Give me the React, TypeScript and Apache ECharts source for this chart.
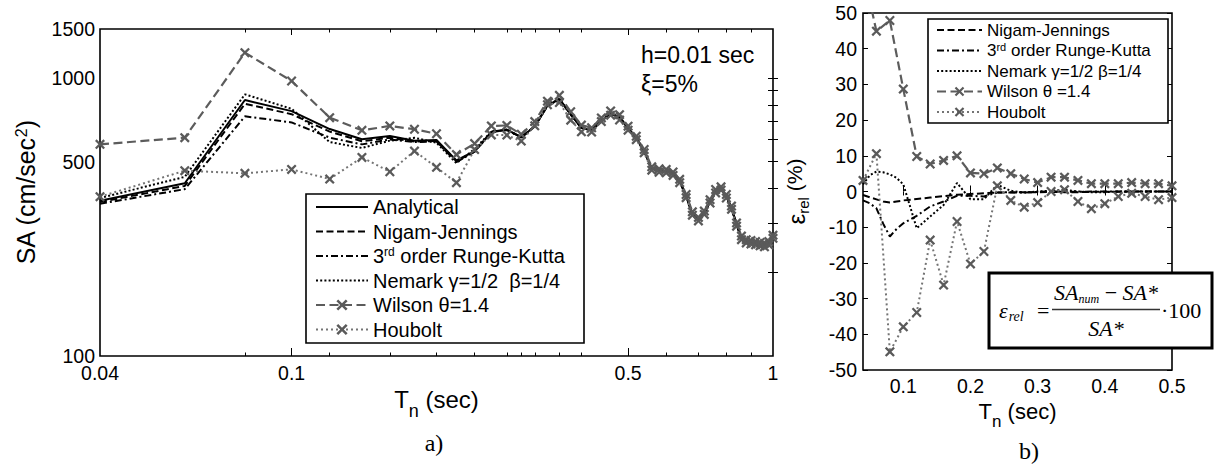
import { useEffect, useRef } from 'react';
import * as echarts from 'echarts';

const FONT = '"Liberation Sans", Arial, sans-serif';
const SERIF = '"Liberation Serif", "Times New Roman", serif';

// ---------- Panel a) : spectral acceleration (log-log) ----------
const T_SA = [0.04, 0.06, 0.08, 0.1, 0.12, 0.14, 0.16, 0.18, 0.2, 0.22, 0.24, 0.26, 0.28, 0.3, 0.32, 0.34, 0.36, 0.38, 0.4, 0.42, 0.44, 0.46, 0.48, 0.5, 0.52, 0.54, 0.56, 0.58, 0.6, 0.62, 0.64, 0.66, 0.68, 0.7, 0.72, 0.74, 0.76, 0.78, 0.8, 0.82, 0.84, 0.86, 0.88, 0.9, 0.92, 0.94, 0.96, 0.98, 1.0];
const SA_ANALYTICAL = [362, 418, 833, 760, 655, 602, 618, 595, 598, 505, 545, 640, 652, 612, 670, 795, 840, 740, 662, 648, 700, 745, 722, 660, 608, 545, 472, 464, 462, 452, 426, 376, 325, 310, 327, 360, 391, 400, 375, 341, 297, 266, 258, 256, 254, 252, 250, 254, 268];
const SA_NIGAM = [358, 409, 807, 741, 641, 592, 610, 590, 594, 502, 543, 638, 651, 611, 669, 794, 839, 740, 662, 648, 700, 745, 722, 660, 608, 545, 472, 464, 462, 452, 426, 376, 325, 310, 327, 360, 391, 400, 375, 341, 297, 266, 258, 256, 254, 252, 250, 254, 268];
const SA_RK3 = [353, 398, 728, 692, 610, 577, 601, 588, 591, 498, 543, 639, 650, 611, 670, 795, 840, 740, 662, 648, 700, 745, 722, 660, 608, 545, 472, 464, 462, 452, 426, 376, 325, 310, 327, 360, 391, 400, 375, 341, 297, 266, 258, 256, 254, 252, 250, 254, 268];
const SA_NEWMARK = [370, 441, 873, 775, 588, 560, 595, 609, 585, 494, 555, 641, 650, 612, 671, 799, 840, 739, 661, 648, 700, 745, 722, 660, 608, 545, 472, 464, 462, 452, 426, 376, 325, 310, 327, 360, 391, 400, 375, 341, 297, 266, 258, 256, 254, 252, 250, 254, 268];
const SA_WILSON = [577, 610, 1233, 975, 720, 648, 672, 654, 630, 530, 581, 672, 675, 627, 697, 825, 866, 756, 677, 662, 718, 761, 738, 671, 617, 553, 479, 471, 469, 459, 432, 381, 330, 315, 332, 365, 397, 406, 381, 346, 301, 270, 262, 260, 258, 256, 254, 258, 272];
const SA_HOUBOLT = [374, 464, 454, 469, 433, 518, 460, 546, 477, 420, 553, 624, 623, 593, 673, 801, 816, 705, 640, 639, 697, 735, 706, 649, 600, 538, 466, 458, 456, 446, 420, 371, 321, 306, 323, 355, 386, 395, 370, 337, 293, 262, 255, 253, 251, 249, 247, 251, 265];

const SA_X_LABELS = [0.04, 0.1, 0.5, 1];
const SA_X_MAJOR_TICKS = [0.1, 0.5];
const SA_X_MINOR_TICKS = [0.08, 0.12, 0.16, 0.2, 0.24, 0.28, 0.3, 0.32, 0.36, 0.4, 0.6, 0.7, 0.8, 0.9];
const SA_Y_LABELS = [100, 500, 1000, 1500];
const SA_Y_TICKS = [200, 300, 400, 500, 600, 700, 800, 900, 1000];

// ---------- Panel b) : relative error ----------
const T_ERR_FINE = [0.04, 0.05, 0.06, 0.07, 0.08, 0.09, 0.1, 0.12, 0.14, 0.16, 0.18, 0.2, 0.22, 0.24, 0.26, 0.28, 0.3, 0.32, 0.34, 0.36, 0.38, 0.4, 0.42, 0.44, 0.46, 0.48, 0.5];
const ERR_NIGAM = [-1.0, -1.6, -2.2, -2.8, -3.1, -2.8, -2.5, -2.1, -1.7, -1.3, -0.9, -0.7, -0.5, -0.3, -0.3, -0.2, -0.2, -0.1, -0.2, -0.2, -0.1, -0.1, -0.1, 0, 0, 0, 0];
const ERR_RK3 = [-2.5, -3.3, -4.7, -9.0, -12.6, -10.5, -8.9, -6.8, -4.2, -2.8, -1.2, -1.2, -1.4, -0.3, -0.2, -0.3, -0.1, 0, -0.1, -0.1, 0, 0, 0, 0, 0, 0, 0];
const ERR_NEWMARK = [2.0, 4.5, 5.6, 5.4, 4.8, 3.8, 2.0, -10.3, -7.0, -3.8, 2.4, -2.2, -2.2, 1.9, 0.2, -0.3, 0, 0.2, 0.5, 0, -0.2, -0.2, 0, 0, 0, 0, 0];
const T_ERR = [0.04, 0.06, 0.08, 0.1, 0.12, 0.14, 0.16, 0.18, 0.2, 0.22, 0.24, 0.26, 0.28, 0.3, 0.32, 0.34, 0.36, 0.38, 0.4, 0.42, 0.44, 0.46, 0.48, 0.5];
const ERR_WILSON = [62, 44.9, 47.9, 28.7, 9.8, 7.7, 8.7, 10.0, 5.2, 5.0, 6.6, 5.0, 3.5, 2.5, 4.0, 4.0, 3.1, 2.2, 2.2, 2.2, 2.5, 2.2, 2.2, 1.6];
const ERR_HOUBOLT = [3.1, 10.6, -44.9, -37.9, -33.9, -13.6, -26.2, -8.4, -20.3, -16.8, 1.6, -2.5, -4.4, -3.1, 0.0, 0.5, -2.8, -4.8, -3.4, -1.4, -0.5, -1.4, -2.3, -1.7];
const ERR_X_TICKS = [0.1, 0.2, 0.3, 0.4, 0.5];

const NAME_AN = 'Analytical';
const NAME_NJ = 'Nigam-Jennings';
const NAME_RK = '3rd order Runge-Kutta';
const NAME_NM_A = 'Nemark γ=1/2  β=1/4';
const NAME_WI_A = 'Wilson θ=1.4';
const NAME_NM_B = 'Nemark γ=1/2 β=1/4';
const NAME_WI_B = 'Wilson θ =1.4';
const NAME_HO = 'Houbolt';

const X_SYMBOL = 'path://M0,1.6L1.6,0L5,3.4L8.4,0L10,1.6L6.6,5L10,8.4L8.4,10L5,6.6L1.6,10L0,8.4L3.4,5Z';

const L = (v: number) => Math.log10(v);

const STY = {
  an: { color: '#000', type: 'solid' as any, width: 2 },
  nj: { color: '#000', type: [7, 3.5], width: 2 },
  rk: { color: '#000', type: [7, 3, 2, 3], width: 2 },
  nm: { color: '#000', type: [2, 2.2], width: 2 },
  wi: { color: '#5c5c5c', type: [9, 4.5], width: 2.2 },
  ho: { color: '#747474', type: [2, 3], width: 2 },
};

function blackSeries(name: string, st: any, xs: number[], ys: number[], xi: number, yi: number, log: boolean) {
  return {
    type: 'line', name, xAxisIndex: xi, yAxisIndex: yi,
    symbol: 'none', color: st.color,
    lineStyle: { color: st.color, type: st.type, width: st.width },
    data: xs.map((t, i) => (log ? [L(t), L(ys[i])] : [t, ys[i]])),
    z: 3,
  };
}
function markSeries(name: string, st: any, xs: number[], ys: number[], xi: number, yi: number, log: boolean) {
  return {
    type: 'line', name, xAxisIndex: xi, yAxisIndex: yi,
    symbol: X_SYMBOL, symbolSize: 10, showSymbol: true, color: '#5a5a5a',
    itemStyle: { color: '#5a5a5a' },
    lineStyle: { color: st.color, type: st.type, width: st.width },
    data: xs.map((t, i) => (log ? [L(t), L(ys[i])] : [t, ys[i]])),
    z: 4,
  };
}

function tickAxis(extra: any) {
  return {
    type: 'value',
    axisLine: { show: false },
    splitLine: { show: false },
    axisLabel: { show: false },
    ...extra,
  };
}

export default function App() {
  const ref = useRef<HTMLDivElement>(null);
  useEffect(() => {
    const chart = echarts.init(ref.current!, null, { renderer: 'svg' });
    const tickStyle = { color: '#000', width: 1 };
    const labelBase = { color: '#000', fontSize: 19.5, fontFamily: FONT };
    const xa0 = L(0.04), xa1 = 0;
    const ya0 = 2, ya1 = L(1500);

    const legendRichA = {
      n: { fontSize: 20, lineHeight: 20, fontFamily: FONT, color: '#000' },
      sup: { fontSize: 12, lineHeight: 12, verticalAlign: 'top', fontFamily: FONT, color: '#000' },
    };
    const legendRichB = {
      n: { fontSize: 17, lineHeight: 18, fontFamily: FONT, color: '#000' },
      sup: { fontSize: 11, lineHeight: 11, verticalAlign: 'top', fontFamily: FONT, color: '#000' },
    };
    const legendFmt = (name: string) =>
      name === NAME_RK ? '{n|3}{sup|rd}{n| order Runge-Kutta}' : '{n|' + name + '}';
    const hide = { opacity: 0 };

    const option: any = {
      animation: false,
      textStyle: { fontFamily: FONT },
      grid: [
        { left: 100, top: 29, width: 673, height: 327, show: true, borderColor: '#000', borderWidth: 1.6, backgroundColor: 'transparent' },
        { left: 863, top: 13, width: 309, height: 357, show: true, borderColor: '#000', borderWidth: 1.6, backgroundColor: 'transparent' },
      ],
      xAxis: [
        tickAxis({
          gridIndex: 0, position: 'bottom', min: xa0, max: xa1,
          axisTick: { show: true, inside: true, length: 8, lineStyle: tickStyle, customValues: SA_X_MAJOR_TICKS.map(L) },
          axisLabel: {
            show: true, ...labelBase, margin: 7, customValues: SA_X_LABELS.map(L),
            formatter: (v: number) => String(parseFloat(Math.pow(10, v).toPrecision(3))),
          },
          name: '{t|T}{sub|n}{t| (sec)}', nameLocation: 'middle', nameGap: 24,
          nameTextStyle: {
            rich: {
              t: { fontSize: 24, lineHeight: 24, verticalAlign: 'top', fontFamily: FONT, color: '#000' },
              sub: { fontSize: 18, lineHeight: 18, padding: [14, 0, 0, 0], verticalAlign: 'top', fontFamily: FONT, color: '#000' },
            },
          },
        }),
        tickAxis({
          gridIndex: 0, position: 'bottom', min: xa0, max: xa1,
          axisTick: { show: true, inside: true, length: 3.5, lineStyle: tickStyle, customValues: SA_X_MINOR_TICKS.map(L) },
        }),
        tickAxis({
          gridIndex: 0, position: 'top', min: xa0, max: xa1,
          axisTick: { show: true, inside: true, length: 6, lineStyle: tickStyle, customValues: SA_X_MAJOR_TICKS.map(L) },
        }),
        tickAxis({
          gridIndex: 0, position: 'top', min: xa0, max: xa1,
          axisTick: { show: true, inside: true, length: 3.5, lineStyle: tickStyle, customValues: SA_X_MINOR_TICKS.map(L) },
        }),
        tickAxis({
          gridIndex: 1, position: 'bottom', min: 0.04, max: 0.5,
          axisTick: { show: true, inside: true, length: 6, lineStyle: tickStyle, customValues: ERR_X_TICKS },
          axisLabel: {
            show: true, ...labelBase, margin: 6, customValues: ERR_X_TICKS,
            formatter: (v: number) => String(parseFloat(v.toFixed(2))),
          },
          name: '{t|T}{sub|n}{t| (sec)}', nameLocation: 'middle', nameGap: 22,
          nameTextStyle: {
            rich: {
              t: { fontSize: 22, lineHeight: 22, verticalAlign: 'top', fontFamily: FONT, color: '#000' },
              sub: { fontSize: 17, lineHeight: 17, padding: [12, 0, 0, 0], verticalAlign: 'top', fontFamily: FONT, color: '#000' },
            },
          },
        }),
        tickAxis({
          gridIndex: 1, position: 'top', min: 0.04, max: 0.5,
          axisTick: { show: true, inside: true, length: 4, lineStyle: tickStyle, customValues: ERR_X_TICKS },
        }),
      ],
      yAxis: [
        tickAxis({
          gridIndex: 0, position: 'left', min: ya0, max: ya1,
          axisTick: { show: true, inside: true, length: 5, lineStyle: tickStyle, customValues: SA_Y_TICKS.map(L) },
          axisLabel: {
            show: true, ...labelBase, margin: 5, customValues: SA_Y_LABELS.map(L),
            formatter: (v: number) => String(Math.round(Math.pow(10, v))),
          },
          name: '{t|SA (cm/sec}{sup|2}{t|)}', nameLocation: 'middle', nameGap: 62, nameRotate: 90,
          nameTextStyle: {
            rich: {
              t: { fontSize: 25, lineHeight: 25, verticalAlign: 'bottom', fontFamily: FONT, color: '#000' },
              sup: { fontSize: 16, lineHeight: 16, verticalAlign: 'top', fontFamily: FONT, color: '#000' },
            },
          },
        }),
        tickAxis({
          gridIndex: 0, position: 'right', min: ya0, max: ya1,
          axisTick: { show: true, inside: true, length: 5, lineStyle: tickStyle, customValues: SA_Y_TICKS.map(L) },
        }),
        tickAxis({
          gridIndex: 1, position: 'left', min: -50, max: 50, interval: 10,
          axisTick: { show: true, inside: true, length: 5, lineStyle: tickStyle },
          axisLabel: { show: true, ...labelBase, margin: 6, formatter: (v: number) => String(v) },
          name: '{e|ε}{sub|rel}{t| (%)}', nameLocation: 'middle', nameGap: 55, nameRotate: 90,
          nameTextStyle: {
            rich: {
              e: { fontSize: 24, lineHeight: 24, verticalAlign: 'top', fontFamily: FONT, color: '#000' },
              t: { fontSize: 21, lineHeight: 24, verticalAlign: 'top', fontFamily: FONT, color: '#000' },
              sub: { fontSize: 15, lineHeight: 15, padding: [12, 0, 0, 0], verticalAlign: 'top', fontFamily: FONT, color: '#000' },
            },
          },
        }),
        tickAxis({
          gridIndex: 1, position: 'right', min: -50, max: 50, interval: 10,
          axisTick: { show: true, inside: true, length: 5, lineStyle: tickStyle },
        }),
      ],
      legend: [
        {
          orient: 'vertical', left: 306, top: 194, padding: [3, 12, 3, 9], z: 20,
          itemWidth: 52, itemHeight: 14, itemGap: 4.5,
          borderWidth: 0, backgroundColor: 'transparent',
          formatter: legendFmt,
          textStyle: { fontSize: 20, lineHeight: 20, color: '#000', fontFamily: FONT, rich: legendRichA },
          data: [
            { name: NAME_AN, itemStyle: hide },
            { name: NAME_NJ, itemStyle: hide },
            { name: NAME_RK, itemStyle: hide },
            { name: NAME_NM_A, itemStyle: hide },
            { name: NAME_WI_A },
            { name: NAME_HO },
          ],
          selectedMode: false,
        },
        {
          orient: 'vertical', left: 928, top: 19, padding: [2, 10, 2, 8], z: 20,
          itemWidth: 45, itemHeight: 12, itemGap: 2.5,
          borderWidth: 0, backgroundColor: 'transparent',
          formatter: legendFmt,
          textStyle: { fontSize: 17, lineHeight: 18, color: '#000', fontFamily: FONT, rich: legendRichB },
          data: [
            { name: NAME_NJ, itemStyle: hide },
            { name: NAME_RK, itemStyle: hide },
            { name: NAME_NM_B, itemStyle: hide },
            { name: NAME_WI_B },
            { name: NAME_HO },
          ],
          selectedMode: false,
        },
      ],
      series: [
        blackSeries(NAME_AN, STY.an, T_SA, SA_ANALYTICAL, 0, 0, true),
        blackSeries(NAME_NJ, STY.nj, T_SA, SA_NIGAM, 0, 0, true),
        blackSeries(NAME_RK, STY.rk, T_SA, SA_RK3, 0, 0, true),
        blackSeries(NAME_NM_A, STY.nm, T_SA, SA_NEWMARK, 0, 0, true),
        markSeries(NAME_WI_A, STY.wi, T_SA, SA_WILSON, 0, 0, true),
        markSeries(NAME_HO, STY.ho, T_SA, SA_HOUBOLT, 0, 0, true),
        blackSeries(NAME_NJ, STY.nj, T_ERR_FINE, ERR_NIGAM, 4, 2, false),
        blackSeries(NAME_RK, STY.rk, T_ERR_FINE, ERR_RK3, 4, 2, false),
        blackSeries(NAME_NM_B, STY.nm, T_ERR_FINE, ERR_NEWMARK, 4, 2, false),
        markSeries(NAME_WI_B, STY.wi, T_ERR, ERR_WILSON, 4, 2, false),
        markSeries(NAME_HO, STY.ho, T_ERR, ERR_HOUBOLT, 4, 2, false),
      ],
      graphic: [
        { type: 'rect', z: 10, shape: { x: 306, y: 194, width: 278, height: 149 }, style: { fill: '#fff', stroke: '#000', lineWidth: 1.6 } },
        { type: 'rect', z: 10, shape: { x: 928, y: 19, width: 240, height: 104 }, style: { fill: '#fff', stroke: '#000', lineWidth: 1.6 } },
        { type: 'text', x: 641, y: 55, z: 50, style: { text: 'h=0.01 sec', fontSize: 23, fontFamily: FONT, fill: '#000', verticalAlign: 'middle' } },
        { type: 'text', x: 641, y: 84, z: 50, style: { text: 'ξ=5%', fontSize: 23, fontFamily: FONT, fill: '#000', verticalAlign: 'middle' } },
        { type: 'text', x: 434, y: 443, z: 50, style: { text: 'a)', fontSize: 24, fontFamily: SERIF, fill: '#000', align: 'center', verticalAlign: 'middle' } },
        { type: 'text', x: 1029, y: 451, z: 50, style: { text: 'b)', fontSize: 24, fontFamily: SERIF, fill: '#000', align: 'center', verticalAlign: 'middle' } },
        { type: 'rect', z: 100, shape: { x: 989, y: 273, width: 223, height: 75 }, style: { fill: '#fff', stroke: '#000', lineWidth: 3 } },
        {
          type: 'text', z: 101, x: 999, y: 310,
          style: {
            text: '{e|ε}{s|rel}', verticalAlign: 'middle',
            rich: {
              e: { fontSize: 22, lineHeight: 22, fontStyle: 'italic', fontFamily: SERIF, fill: '#000', verticalAlign: 'top' },
              s: { fontSize: 14, lineHeight: 14, padding: [10, 0, 0, 1], fontStyle: 'italic', fontFamily: SERIF, fill: '#000', verticalAlign: 'top' },
            },
          },
        },
        { type: 'text', z: 101, x: 1037, y: 310, style: { text: '=', fontSize: 22, fontFamily: SERIF, fill: '#000', verticalAlign: 'middle' } },
        { type: 'rect', z: 101, shape: { x: 1052, y: 308.8, width: 108, height: 1.4 }, style: { fill: '#333' } },
        {
          type: 'text', z: 101, x: 1106, y: 292,
          style: {
            text: '{i|SA}{s|num}{o| − }{i|SA*}', align: 'center', verticalAlign: 'middle',
            rich: {
              i: { fontSize: 22, lineHeight: 22, fontStyle: 'italic', fontFamily: SERIF, fill: '#000', verticalAlign: 'top' },
              o: { fontSize: 22, lineHeight: 22, fontFamily: SERIF, fill: '#000', verticalAlign: 'top' },
              s: { fontSize: 12, lineHeight: 12, padding: [12, 0, 0, 0], fontStyle: 'italic', fontFamily: SERIF, fill: '#000', verticalAlign: 'top' },
            },
          },
        },
        { type: 'text', z: 101, x: 1106, y: 328, style: { text: 'SA*', fontSize: 22, fontStyle: 'italic', fontFamily: SERIF, fill: '#000', align: 'center', verticalAlign: 'middle' } },
        { type: 'text', z: 101, x: 1161, y: 310, style: { text: '·100', fontSize: 22, fontFamily: SERIF, fill: '#000', verticalAlign: 'middle' } },
      ],
    };
    chart.setOption(option);
    return () => chart.dispose();
  }, []);
  return <div ref={ref} style={{ position: 'absolute', left: 0, top: 0, width: 1215, height: 467, background: '#fff' }} />;
}
